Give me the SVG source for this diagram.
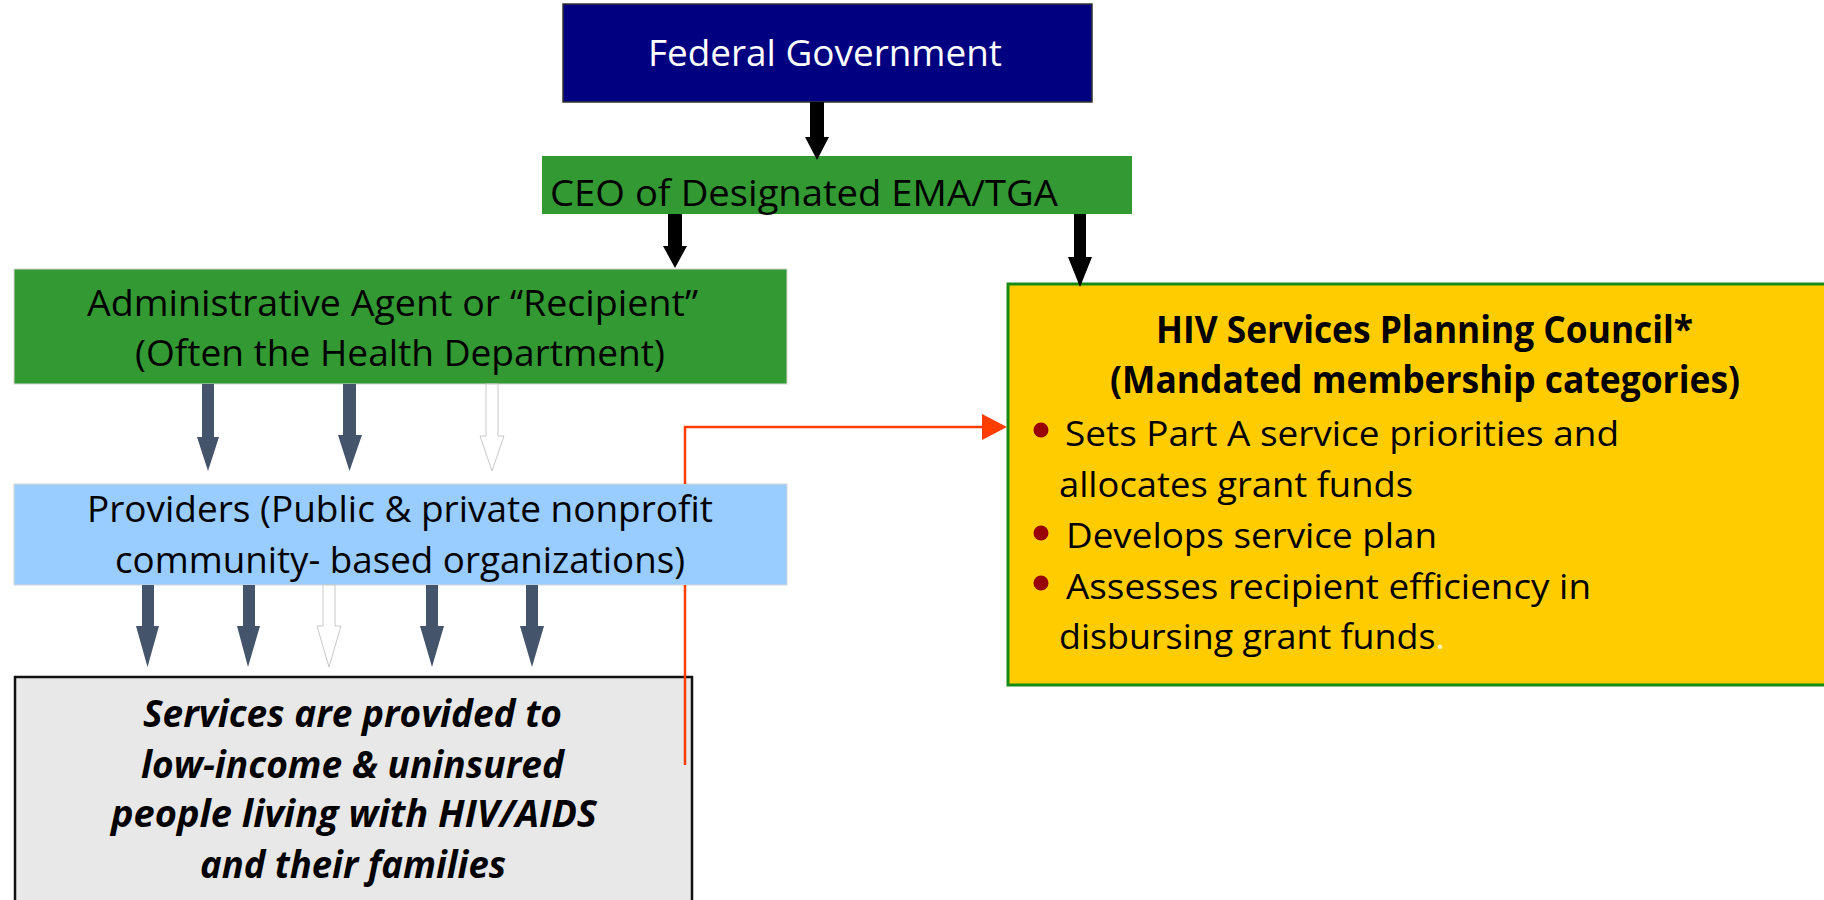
<svg xmlns="http://www.w3.org/2000/svg" width="1824" height="900" viewBox="0 0 1824 900">
<defs>
<style>
text{font-family:"Open Sans","Noto Sans","Liberation Sans",sans-serif;font-size:37px;fill:#000}
.w{fill:#fff}
.b{font-weight:bold}
.bi{font-weight:bold;font-style:italic}
.c{font-size:35px}
.blk{fill:#000}
.slate{fill:#44546A}
.hollow{fill:#fff;stroke:#c8c8c8;stroke-width:1}
.dot{fill:#990000}
</style>
</defs>
<rect width="1824" height="900" fill="#fff"/>

<g id="federal-government">
<rect x="563" y="4" width="529" height="98" fill="#000080" stroke="#333" stroke-width="1.5"/>
<text class="w" x="648" y="66" textLength="354" lengthAdjust="spacingAndGlyphs">Federal Government</text>
</g>

<g id="ceo">
<rect x="542" y="156" width="590" height="58" fill="#339933"/>
<text x="550" y="206" textLength="508" lengthAdjust="spacingAndGlyphs">CEO of Designated EMA/TGA</text>
</g>

<g id="administrative-agent">
<rect x="14" y="269" width="773" height="115" fill="#339933" stroke="#d6d6d6" stroke-width="1"/>
<text x="87" y="316" textLength="611" lengthAdjust="spacingAndGlyphs">Administrative Agent or “Recipient”</text>
<text x="135" y="366" textLength="530" lengthAdjust="spacingAndGlyphs">(Often the Health Department)</text>
</g>

<g id="providers">
<rect x="14" y="484" width="773" height="101" fill="#99CCFF" stroke="#d6d6d6" stroke-width="1"/>
<text x="87" y="522" textLength="626" lengthAdjust="spacingAndGlyphs">Providers (Public &amp; private nonprofit</text>
<text x="115" y="573" textLength="570" lengthAdjust="spacingAndGlyphs">community- based organizations)</text>
</g>

<g id="services">
<rect x="15" y="677" width="677" height="240" fill="#E8E8E8" stroke="#111" stroke-width="2.5"/>
<text class="bi" x="143" y="727" textLength="419" lengthAdjust="spacingAndGlyphs">Services are provided to</text>
<text class="bi" x="141" y="778" textLength="423" lengthAdjust="spacingAndGlyphs">low-income &amp; uninsured</text>
<text class="bi" x="111" y="827" textLength="486" lengthAdjust="spacingAndGlyphs">people living with HIV/AIDS</text>
<text class="bi" x="200" y="878" textLength="306" lengthAdjust="spacingAndGlyphs">and their families</text>
</g>

<g id="planning-council">
<rect x="1008" y="284" width="830" height="401" fill="#FFCC00" stroke="#178A17" stroke-width="3"/>
<text class="b" x="1156" y="343" textLength="537" lengthAdjust="spacingAndGlyphs">HIV Services Planning Council*</text>
<text class="b" x="1110" y="393" textLength="630" lengthAdjust="spacingAndGlyphs">(Mandated membership categories)</text>
<circle class="dot" cx="1041" cy="430" r="7.5"/>
<text class="c" x="1065" y="446" textLength="554" lengthAdjust="spacingAndGlyphs">Sets Part A service priorities and</text>
<text class="c" x="1059" y="497" textLength="354" lengthAdjust="spacingAndGlyphs">allocates grant funds</text>
<circle class="dot" cx="1041" cy="533" r="7.5"/>
<text class="c" x="1066" y="548" textLength="371" lengthAdjust="spacingAndGlyphs">Develops service plan</text>
<circle class="dot" cx="1041" cy="583" r="7.5"/>
<text class="c" x="1066" y="599" textLength="525" lengthAdjust="spacingAndGlyphs">Assesses recipient efficiency in</text>
<text class="c" x="1059" y="649" textLength="386" lengthAdjust="spacingAndGlyphs">disbursing grant funds<tspan fill="#FFF3C0">.</tspan></text>
</g>

<g id="connectors">
<polygon class="blk" points="810,102 824,102 824,137 829,137 817,160 805,137 810,137"/>
<polygon class="blk" points="668,214 682,214 682,246 687,246 675,268 663,246 668,246"/>
<polygon class="blk" points="1074,214 1086,214 1086,257 1092,257 1080,287 1068,257 1074,257"/>
<polygon class="slate" points="202,384 214,384 214,437 219,437 208,471 197,437 202,437"/>
<polygon class="slate" points="343,384 356,384 356,435 362,435 349.5,471 338,435 343,435"/>
<polygon class="hollow" points="486,384 498,384 498,436 504,436 492,471 480,436 486,436"/>
<polygon class="slate" points="142,585 154,585 154,626 159,626 147.5,667 136,626 142,626"/>
<polygon class="slate" points="243,585 255,585 255,626 260,626 248,667 237,626 243,626"/>
<polygon class="hollow" points="323,585 335,585 335,626 341,626 329,667 317,626 323,626"/>
<polygon class="slate" points="426,585 438,585 438,626 444,626 432,667 420,626 426,626"/>
<polygon class="slate" points="526,585 538,585 538,626 544,626 532,667 520,626 526,626"/>
<path d="M685,765 V585 M685,484 V427 H984" fill="none" stroke="#FF3D00" stroke-width="2.5"/>
<polygon points="982,414 1007,427 982,440" fill="#FF3D00"/>
</g>
</svg>
